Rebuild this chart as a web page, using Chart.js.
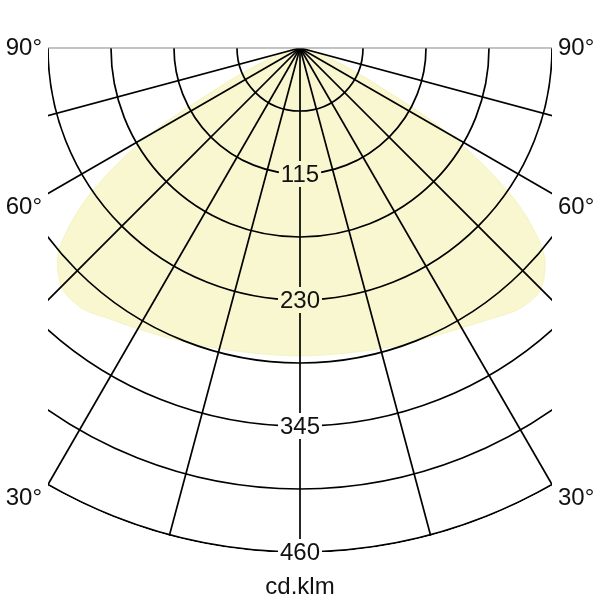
<!DOCTYPE html>
<html>
<head>
<meta charset="utf-8">
<title>Light distribution</title>
<script src="https://cdn.jsdelivr.net/npm/chart.js@4/dist/chart.umd.min.js"></script>
<style>
  html, body { margin: 0; padding: 0; background: #fff; }
  #wrap { width: 600px; height: 600px; }
</style>
</head>
<body>
<div id="wrap"><canvas id="ldc" width="600" height="600"></canvas></div>
<script>
// angles from nadir (deg), one half-plane each side
const angles = [0, 5, 10, 15, 20, 25, 30, 35, 40, 45, 50, 55, 60, 65, 70, 75, 80, 85, 90];

// C0-C180 plane (inner, darker)
const c180 = [275, 276, 277, 279, 282, 286, 291, 297, 305, 302, 277, 224, 148, 62, 28, 12, 6, 2, 0];
const c0   = [276, 276, 277, 279, 282, 285, 290, 297, 306, 306, 280, 225, 145, 62, 28, 12, 6, 2, 0];
// C90-C270 plane (outer, paler)
const c270 = [281, 281, 282, 284, 287, 291, 296, 302, 310, 308, 287, 236, 160, 72, 33, 15, 7, 3, 0];
const c90  = [281, 281, 282, 284, 287, 290, 295, 302, 311, 311, 290, 237, 158, 72, 33, 15, 7, 3, 0];

const ringValues = [57.5, 115, 172.5, 230, 287.5, 345, 402.5, 460];
const ringLabels = ['115', '230', '345', '460'];
const rayAngles = [-75, -60, -45, -30, -15, 0, 15, 30, 45, 60, 75];
const sideLabels = ['90°', '60°', '30°'];
const sideLabelAngles = [90, 60, 30];
const unitLabel = 'cd.klm';

const FONT = '24px "Liberation Sans", Arial, sans-serif';

// polar (angle from nadir, value) -> x/y data, left half first, then right half
function toPoints(left, right) {
  const pts = [];
  for (let i = angles.length - 1; i >= 0; i--) {
    const a = angles[i] * Math.PI / 180;
    pts.push({ x: -left[i] * Math.sin(a), y: -left[i] * Math.cos(a) });
  }
  for (let i = 1; i < angles.length; i++) {
    const a = angles[i] * Math.PI / 180;
    pts.push({ x: right[i] * Math.sin(a), y: -right[i] * Math.cos(a) });
  }
  return pts;
}

const gridPlugin = {
  id: 'polarGrid',
  afterDatasetsDraw(chart) {
    const ctx = chart.ctx;
    const area = chart.chartArea;
    const xs = chart.scales.x, ys = chart.scales.y;
    const cx = xs.getPixelForValue(0);
    const cy = ys.getPixelForValue(0);
    const k = xs.getPixelForValue(1) - cx;
    const rMax = ringValues[ringValues.length - 1] * k;

    ctx.save();
    ctx.font = FONT;
    ctx.textAlign = 'center';
    ctx.textBaseline = 'middle';

    // boxes around ring labels where the grid is left out
    const boxes = ringLabels.map(t => {
      const w = ctx.measureText(t).width + 4;
      const y = ys.getPixelForValue(-Number(t));
      return { t, x: cx - w / 2, y: y - 13, w, h: 26, ty: y };
    });

    ctx.save();
    ctx.beginPath();
    ctx.rect(area.left, area.top, area.right - area.left, area.bottom - area.top);
    ctx.clip();
    ctx.beginPath();
    ctx.arc(cx, cy, rMax + 1, 0, Math.PI * 2);
    boxes.forEach(b => ctx.rect(b.x, b.y, b.w, b.h));
    ctx.clip('evenodd');

    ctx.strokeStyle = '#000';
    ctx.lineWidth = 1.7;
    ringValues.forEach(v => {
      ctx.beginPath();
      ctx.arc(cx, cy, v * k, 0, Math.PI);
      ctx.stroke();
    });
    rayAngles.forEach(d => {
      const a = d * Math.PI / 180;
      ctx.beginPath();
      ctx.moveTo(cx, cy);
      ctx.lineTo(cx + Math.sin(a) * rMax * 2, cy + Math.cos(a) * rMax * 2);
      ctx.stroke();
    });
    ctx.restore();

    // 90° line
    ctx.strokeStyle = '#888';
    ctx.lineWidth = 1.2;
    ctx.beginPath();
    ctx.moveTo(area.left, cy);
    ctx.lineTo(area.right, cy);
    ctx.stroke();

    ctx.fillStyle = '#111';
    boxes.forEach(b => ctx.fillText(b.t, cx, b.ty + 1));

    // angle labels, both sides
    const half = area.right - cx;
    sideLabels.forEach((t, i) => {
      const a = sideLabelAngles[i] * Math.PI / 180;
      const y = cy + (sideLabelAngles[i] === 90 ? 0 : half / Math.tan(a) + 14);
      ctx.textAlign = 'right';
      ctx.fillText(t, area.left - 6, y);
      ctx.textAlign = 'left';
      ctx.fillText(t, area.right + 6, y);
    });

    ctx.textAlign = 'center';
    ctx.fillText(unitLabel, cx, area.bottom + 35);
    ctx.restore();
  }
};

new Chart(document.getElementById('ldc'), {
  type: 'scatter',
  data: {
    datasets: [
      {
        label: 'C90-C270',
        data: toPoints(c270, c90),
        showLine: true,
        fill: 'shape',
        backgroundColor: '#f9f7cf',
        borderColor: '#f5f2c0',
        borderWidth: 1,
        pointRadius: 0,
        tension: 0.3
      },
      {
        label: 'C0-C180',
        data: toPoints(c180, c0),
        showLine: true,
        fill: 'shape',
        backgroundColor: '#f6f2aa',
        borderColor: '#f3eea2',
        borderWidth: 1,
        pointRadius: 0,
        tension: 0.3
      }
    ]
  },
  options: {
    responsive: false,
    animation: false,
    layout: { padding: { left: 48, right: 48, top: 48, bottom: 48 } },
    scales: {
      x: { type: 'linear', min: -230, max: 230, display: false },
      y: { type: 'linear', min: -460, max: 0, display: false }
    },
    plugins: {
      legend: { display: false },
      tooltip: { enabled: false }
    }
  },
  plugins: [gridPlugin]
});
</script>
</body>
</html>
